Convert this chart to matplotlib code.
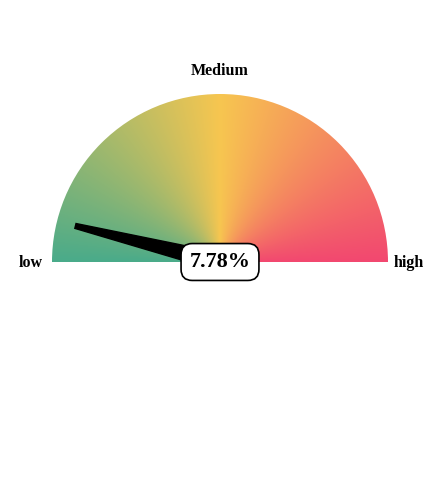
import numpy as np
import matplotlib
matplotlib.use("Agg")
import matplotlib.pyplot as plt
from matplotlib.colors import LinearSegmentedColormap
from matplotlib.patches import Wedge, Polygon

# gauge data
value = 7.78          # percent
labels = ["low", "Medium", "high"]
stop_colors = ["#4aab8a", "#f7c650", "#f24870"]   # left -> top -> right

plt.rcParams['font.family'] = ['Liberation Serif', 'DejaVu Serif']

fig = plt.figure(figsize=(4.4, 4.82), dpi=100)
ax = fig.add_axes([0, 0, 1, 1])
ax.set_xlim(0, 440)
ax.set_ylim(0, 482)
ax.axis('off')

cx, cy, r = 220, 220, 168

# conic gradient clipped by a half disc
cmap = LinearSegmentedColormap.from_list("gauge", stop_colors)
xs = np.linspace(cx - r, cx + r, 600)
ys = np.linspace(cy, cy + r, 300)
X, Y = np.meshgrid(xs, ys)
ang = np.degrees(np.arctan2(Y - cy, X - cx))
frac = 1 - np.clip(ang, 0, 180) / 180.0
im = ax.imshow(frac, cmap=cmap, vmin=0, vmax=1, origin='lower',
               extent=(cx - r, cx + r, cy, cy + r), interpolation='bilinear')
clip = Wedge((cx, cy), r, 0, 180, transform=ax.transData, facecolor='none', edgecolor='none')
ax.add_patch(clip)
im.set_clip_path(clip)

# needle
theta = np.radians(180 - value / 100 * 180)
length = 149
tip = np.array([cx + length * np.cos(theta), cy + length * np.sin(theta)])
perp = np.array([-np.sin(theta), np.cos(theta)])
base = np.array([cx, cy])
needle = Polygon([tip + perp * 2.5, tip - perp * 2.5, base - perp * 9, base + perp * 9],
                 closed=True, facecolor='black', edgecolor='black', zorder=3)
ax.add_patch(needle)

# value box
ax.text(cx, cy, "{:.2f}%".format(value), ha='center', va='center',
        fontsize=16, fontweight='bold', zorder=5,
        bbox=dict(boxstyle='round,pad=0.38,rounding_size=0.5', facecolor='white',
                  edgecolor='black', linewidth=1.2))

ax.text(31, cy - 1, labels[0], ha='center', va='center', fontsize=11.5, fontweight='bold')
ax.text(220, 482 - 71, labels[1], ha='center', va='center', fontsize=11.5, fontweight='bold')
ax.text(409, cy - 1, labels[2], ha='center', va='center', fontsize=11.5, fontweight='bold')

fig.savefig("out.png", dpi=100)
